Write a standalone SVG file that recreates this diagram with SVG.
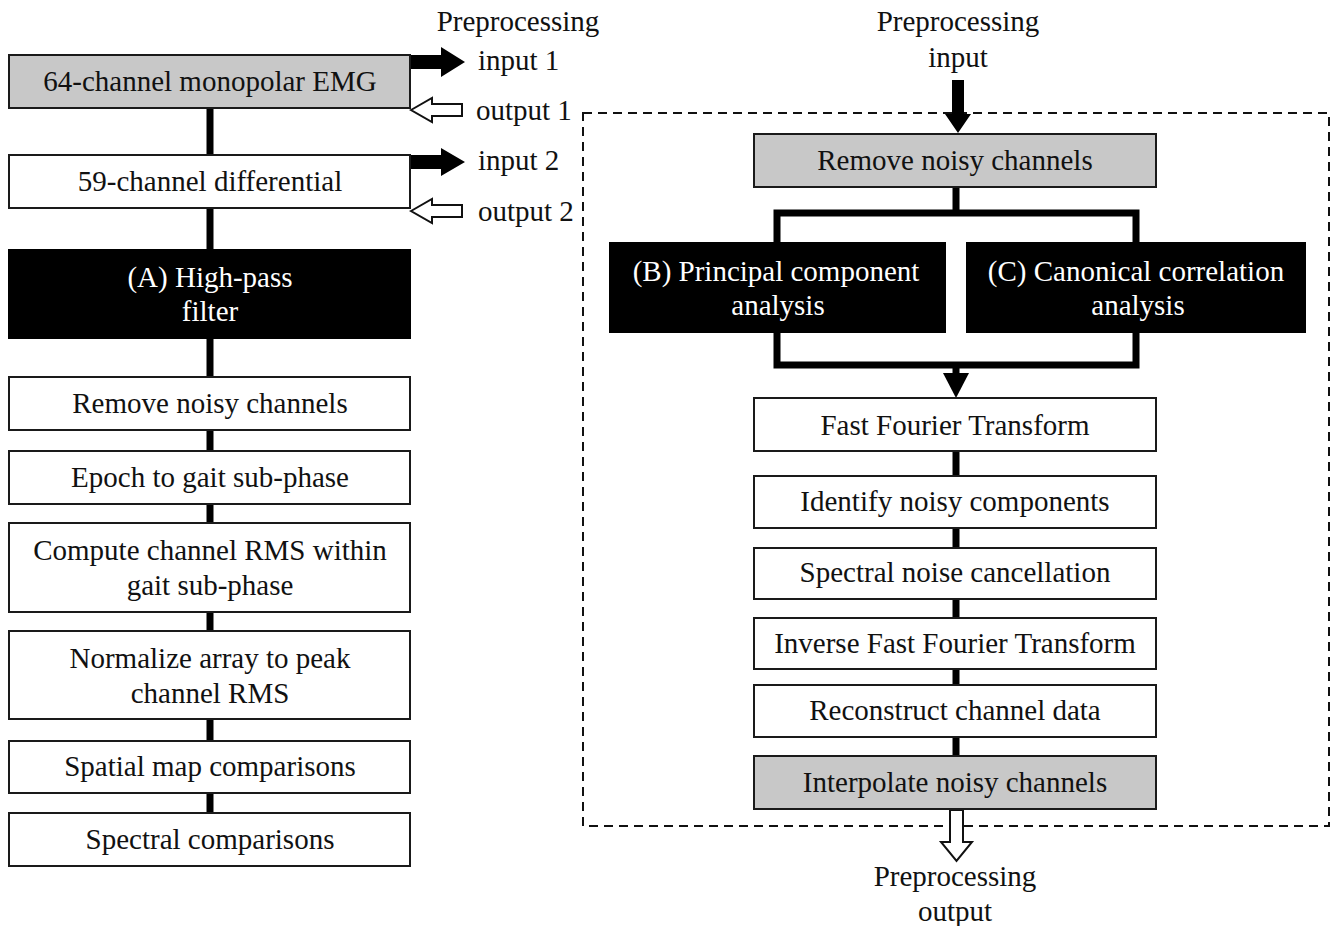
<svg xmlns="http://www.w3.org/2000/svg" width="1335" height="926" viewBox="0 0 1335 926">
<style>
text{font-family:"Liberation Serif","Times New Roman",serif;font-size:29px;fill:#111;}
.c{text-anchor:middle;}
.w{fill:#fff;}
.box{fill:#fff;stroke:#1a1a1a;stroke-width:2;}
.gray{fill:#c8c8c8;stroke:#1a1a1a;stroke-width:2;}
.blk{fill:#000;stroke:#000;stroke-width:2;}
.ln{stroke:#000;stroke-width:7;fill:none;}
.solid{fill:#000;stroke:none;}
.hollow{fill:#fff;stroke:#111;stroke-width:2;}
</style>
<rect width="1335" height="926" fill="#fff"/>
<g id="connectors">
  <line class="ln" x1="210" y1="108" x2="210" y2="155"/>
  <line class="ln" x1="210" y1="208" x2="210" y2="250"/>
  <line class="ln" x1="210" y1="338" x2="210" y2="377"/>
  <line class="ln" x1="210" y1="430" x2="210" y2="451"/>
  <line class="ln" x1="210" y1="504" x2="210" y2="523"/>
  <line class="ln" x1="210" y1="612" x2="210" y2="631"/>
  <line class="ln" x1="210" y1="719" x2="210" y2="741"/>
  <line class="ln" x1="210" y1="793" x2="210" y2="813"/>
  <polygon class="solid" points="410,55 441,55 441,47 465,62 441,77 441,69 410,69"/>
  <polygon class="hollow" points="411,110 432,98 432,104 462,104 462,116 432,116 432,122"/>
  <polygon class="solid" points="410,155 441,155 441,148 465,162 441,176 441,169 410,169"/>
  <polygon class="hollow" points="411,211 432,199 432,205 462,205 462,217 432,217 432,223"/>
  <rect x="583" y="113" width="746" height="713" fill="none" stroke="#111" stroke-width="2" stroke-dasharray="9,6"/>
  <polygon class="solid" points="952,80 964,80 964,114 971,114 958,133 945,114 952,114"/>
  <line class="ln" x1="956" y1="187" x2="956" y2="213"/>
  <polyline class="ln" points="777,243 777,213 1136,213 1136,243"/>
  <polyline class="ln" points="777,332 777,365 1136,365 1136,332"/>
  <line class="ln" x1="956" y1="365" x2="956" y2="376"/>
  <polygon class="solid" points="943,373 969,373 956,398"/>
  <line class="ln" x1="956" y1="451" x2="956" y2="476"/>
  <line class="ln" x1="956" y1="528" x2="956" y2="548"/>
  <line class="ln" x1="956" y1="599" x2="956" y2="618"/>
  <line class="ln" x1="956" y1="669" x2="956" y2="685"/>
  <line class="ln" x1="956" y1="737" x2="956" y2="756"/>
  <polygon class="hollow" points="950,810 963,810 963,842 972,842 956.5,861 941,842 950,842"/>
</g>
<g id="labels">
  <text class="c" x="518" y="31">Preprocessing</text>
  <text x="478" y="70">input 1</text>
  <text x="476" y="120">output 1</text>
  <text x="478" y="170">input 2</text>
  <text x="478" y="221">output 2</text>
  <text class="c" x="958" y="31">Preprocessing</text>
  <text class="c" x="958" y="67">input</text>
  <text class="c" x="955" y="886">Preprocessing</text>
  <text class="c" x="955" y="921">output</text>
</g>
<g id="n_emg"><rect class="gray" x="9" y="55" width="401" height="53"/><text class="c" x="210" y="91">64-channel monopolar EMG</text></g>
<g id="n_diff"><rect class="box" x="9" y="155" width="401" height="53"/><text class="c" x="210" y="191">59-channel differential</text></g>
<g id="n_hp"><rect class="blk" x="9" y="250" width="401" height="88"/><text class="c w" x="210" y="287">(A) High-pass</text><text class="c w" x="210" y="321">filter</text></g>
<g id="n_rm1"><rect class="box" x="9" y="377" width="401" height="53"/><text class="c" x="210" y="413">Remove noisy channels</text></g>
<g id="n_epoch"><rect class="box" x="9" y="451" width="401" height="53"/><text class="c" x="210" y="487">Epoch to gait sub-phase</text></g>
<g id="n_rms"><rect class="box" x="9" y="523" width="401" height="89"/><text class="c" x="210" y="560">Compute channel RMS within</text><text class="c" x="210" y="595">gait sub-phase</text></g>
<g id="n_norm"><rect class="box" x="9" y="631" width="401" height="88"/><text class="c" x="210" y="668">Normalize array to peak</text><text class="c" x="210" y="703">channel RMS</text></g>
<g id="n_spatial"><rect class="box" x="9" y="741" width="401" height="52"/><text class="c" x="210" y="776">Spatial map comparisons</text></g>
<g id="n_spectral"><rect class="box" x="9" y="813" width="401" height="53"/><text class="c" x="210" y="849">Spectral comparisons</text></g>
<g id="n_rm2"><rect class="gray" x="754" y="134" width="402" height="53"/><text class="c" x="955" y="170">Remove noisy channels</text></g>
<g id="n_pca"><rect class="blk" x="610" y="243" width="335" height="89"/><text class="c w" x="776" y="281">(B) Principal component</text><text class="c w" x="778" y="315">analysis</text></g>
<g id="n_cca"><rect class="blk" x="967" y="243" width="338" height="89"/><text class="c w" x="1136" y="281">(C) Canonical correlation</text><text class="c w" x="1138" y="315">analysis</text></g>
<g id="n_fft"><rect class="box" x="754" y="398" width="402" height="53"/><text class="c" x="955" y="435">Fast Fourier Transform</text></g>
<g id="n_ident"><rect class="box" x="754" y="476" width="402" height="52"/><text class="c" x="955" y="511">Identify noisy components</text></g>
<g id="n_snc"><rect class="box" x="754" y="548" width="402" height="51"/><text class="c" x="955" y="582">Spectral noise cancellation</text></g>
<g id="n_ifft"><rect class="box" x="754" y="618" width="402" height="51"/><text class="c" x="955" y="653">Inverse Fast Fourier Transform</text></g>
<g id="n_recon"><rect class="box" x="754" y="685" width="402" height="52"/><text class="c" x="955" y="720">Reconstruct channel data</text></g>
<g id="n_interp"><rect class="gray" x="754" y="756" width="402" height="53"/><text class="c" x="955" y="792">Interpolate noisy channels</text></g>
</svg>
